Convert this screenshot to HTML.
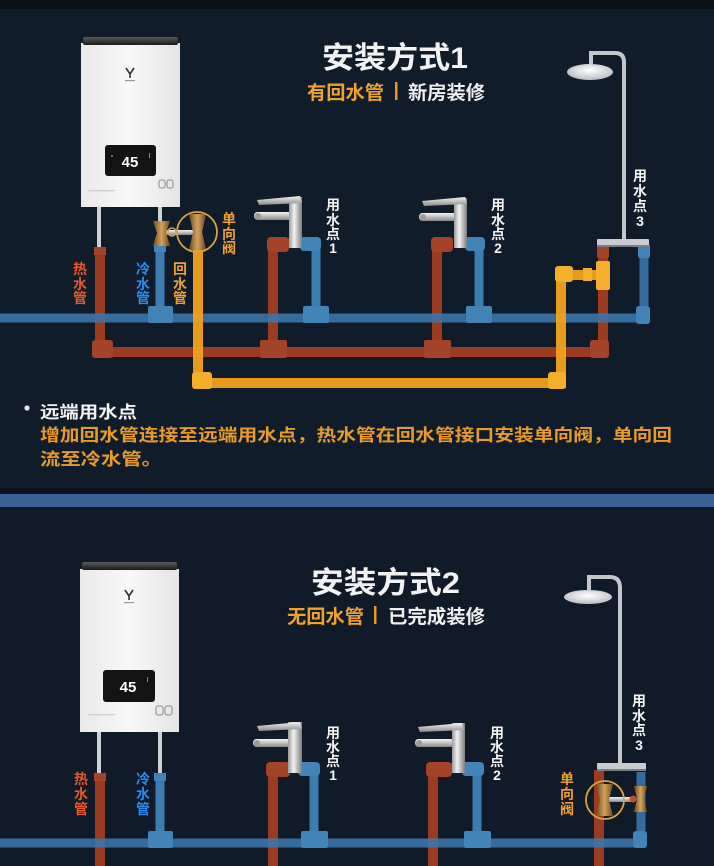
<!DOCTYPE html>
<html><head><meta charset="utf-8"><style>
html,body{margin:0;padding:0;background:#111c2b;}
svg{display:block}
text{font-family:"Liberation Sans","Noto Sans CJK SC",sans-serif;font-weight:bold}
</style></head><body>
<svg width="714" height="866" viewBox="0 0 714 866" xmlns="http://www.w3.org/2000/svg">
<defs>
<linearGradient id="body" x1="0" x2="1" y1="0" y2="0"><stop offset="0" stop-color="#e9e9e9"/><stop offset="0.5" stop-color="#f8f8f8"/><stop offset="1" stop-color="#e4e4e4"/></linearGradient>
<linearGradient id="cap" x1="0" x2="0" y1="0" y2="1"><stop offset="0" stop-color="#5a5a5a"/><stop offset="1" stop-color="#1a1a1a"/></linearGradient>
<linearGradient id="chrome" x1="0" x2="1" y1="0" y2="0"><stop offset="0" stop-color="#9a9a9a"/><stop offset="0.4" stop-color="#f2f2f2"/><stop offset="1" stop-color="#7c7c7c"/></linearGradient>
<linearGradient id="chromeH" x1="0" x2="0" y1="0" y2="1"><stop offset="0" stop-color="#f4f4f4"/><stop offset="1" stop-color="#8a8a8a"/></linearGradient>
<linearGradient id="brass" x1="0" x2="1" y1="0" y2="0"><stop offset="0" stop-color="#6e4a1e"/><stop offset="0.5" stop-color="#d2a35c"/><stop offset="1" stop-color="#6e4a1e"/></linearGradient>
<radialGradient id="head" cx="0.5" cy="0.4" r="0.6"><stop offset="0" stop-color="#ffffff"/><stop offset="1" stop-color="#b8bcc2"/></radialGradient>
</defs>

<!-- backgrounds -->
<rect x="0" y="0" width="714" height="866" fill="#111c2b"/>
<rect x="0" y="0" width="714" height="9" fill="#0c1219"/>
<rect x="0" y="488" width="714" height="6" fill="#0c141e"/>
<rect x="0" y="494" width="714" height="13" fill="#3d6196"/>
<rect x="0" y="507" width="714" height="359" fill="#101a28"/>

<!-- ============ SECTION 1 ============ -->
<!-- heater 1 -->
<rect x="97" y="205" width="4" height="44" fill="#cfd2d5"/>
<rect x="158" y="205" width="4" height="20" fill="#cfd2d5"/>
<rect x="81" y="43" width="99" height="164" fill="url(#body)"/>
<rect x="83" y="37" width="95" height="8" rx="2" fill="url(#cap)"/>
<path d="M126,68 L130,74 L134,68 M130,74 L130,78" stroke="#333" stroke-width="1.6" fill="none"/>
<rect x="125" y="80" width="10" height="1.2" fill="#999"/>
<rect x="105" y="145" width="51" height="31" rx="3" fill="#131313"/>
<text x="130" y="167" font-size="15" fill="#ffffff" text-anchor="middle" font-weight="normal">45</text>
<circle cx="112" cy="156" r="1" fill="#888"/><rect x="149" y="153" width="1" height="5" fill="#888"/>
<rect x="159" y="180" width="6" height="8" rx="2" fill="none" stroke="#888" stroke-width="1"/>
<rect x="167" y="180" width="6" height="8" rx="2" fill="none" stroke="#888" stroke-width="1"/>
<rect x="88" y="190" width="27" height="1.4" fill="#cfcfcf"/>

<!-- red pipes s1 -->
<g fill="none" stroke="#9b3b1f" stroke-width="10">
<polyline points="100,249 100,352 603,352 603,248"/>
<polyline points="289,243 273,243 273,352"/>
<polyline points="453,243 437,243 437,352"/>
</g>
<g fill="#a3432a">
<rect x="94" y="247" width="12" height="8"/>
<rect x="92" y="340" width="21" height="18" rx="3"/>
<rect x="260" y="340" width="27" height="18" rx="2"/>
<rect x="424" y="340" width="27" height="18" rx="2"/>
<rect x="590" y="340" width="19" height="18" rx="3"/>
<rect x="267" y="237" width="22" height="15" rx="4"/>
<rect x="431" y="237" width="22" height="15" rx="4"/>
<rect x="597" y="244" width="12" height="14" rx="2"/>
</g>

<!-- blue pipes s1 -->
<g fill="none" stroke="#3a78ad" stroke-width="9" opacity="0.88">
<polyline points="0,318 644,318 644,248"/>
</g>
<g fill="none" stroke="#3b7cb1" stroke-width="9">
<line x1="160" y1="244" x2="160" y2="312"/>
<polyline points="300,243 316,243 316,312"/>
<polyline points="465,243 479,243 479,312"/>
</g>
<g fill="#4284b8">
<rect x="148" y="306" width="25" height="17" rx="2"/>
<rect x="303" y="306" width="26" height="17" rx="2"/>
<rect x="466" y="306" width="26" height="17" rx="2"/>
<rect x="636" y="306" width="14" height="18" rx="3"/>
<rect x="300" y="237" width="21" height="14" rx="4"/>
<rect x="465" y="237" width="20" height="14" rx="4"/>
<rect x="638" y="244" width="12" height="14" rx="2"/>
<rect x="154" y="244" width="12" height="8"/>
</g>

<!-- orange return pipe -->
<g fill="none" stroke="#f2a21e" stroke-width="10" opacity="0.95">
<polyline points="198,250 198,383 561,383 561,275 600,275"/>
</g>
<g fill="#f5ae2c">
<rect x="192" y="372" width="20" height="17" rx="3"/>
<rect x="548" y="372" width="18" height="17" rx="3"/>
<rect x="555" y="266" width="18" height="16" rx="3"/>
<rect x="583" y="268" width="9" height="13"/>
<rect x="596" y="261" width="14" height="29" rx="2"/>
</g>

<!-- valves s1 -->
<rect x="166" y="230" width="28" height="5" fill="url(#chromeH)"/>
<circle cx="172" cy="232" r="4" fill="none" stroke="#c9a060" stroke-width="1.5"/>
<path d="M153,221 L170,221 L166,233 L170,246 L153,246 L157,233 Z" fill="url(#brass)"/>
<path d="M189,214 L206,214 L202,232 L206,250 L189,250 L193,232 Z" fill="url(#brass)"/>
<circle cx="197" cy="232" r="20" fill="none" stroke="#d9a246" stroke-width="1.8"/>

<!-- faucets s1 -->
<rect x="254" y="212" width="38" height="8" rx="3.5" fill="url(#chromeH)"/>
<circle cx="258" cy="216" r="3" fill="#9a9a9a"/>
<rect x="289" y="197" width="13" height="51" fill="url(#chrome)"/>
<path d="M257,200 L300,196 L302,203 L259,205 Z" fill="url(#chromeH)"/>
<rect x="419" y="213" width="38" height="8" rx="3.5" fill="url(#chromeH)"/>
<circle cx="423" cy="217" r="3" fill="#9a9a9a"/>
<rect x="454" y="198" width="13" height="50" fill="url(#chrome)"/>
<path d="M422,201 L465,197 L467,204 L424,206 Z" fill="url(#chromeH)"/>

<!-- shower s1 -->
<path d="M624,240 L624,62 Q624,53 615,53 L591,53 L591,64" fill="none" stroke="#c3c7cc" stroke-width="4"/>
<ellipse cx="590" cy="72" rx="23" ry="8" fill="url(#head)"/>
<rect x="597" y="239" width="52" height="7" rx="1" fill="#c8ccd0"/>
<rect x="597" y="245" width="52" height="2" fill="#7a7e84"/>

<!-- titles s1 -->
<text x="322" y="68" font-size="30" fill="#f2f2f2" textLength="146" lengthAdjust="spacingAndGlyphs">安装方式1</text>
<text x="307" y="99" font-size="19" fill="#f0a22e" textLength="77" lengthAdjust="spacingAndGlyphs">有回水管</text>
<rect x="395" y="82" width="2.5" height="18" fill="#e8962a"/>
<text x="408" y="99" font-size="19" fill="#f0f0f0" textLength="77" lengthAdjust="spacingAndGlyphs">新房装修</text>

<!-- vertical labels s1 -->
<g font-size="14" fill="#f4f4f4" text-anchor="middle">
<text x="333" y="210">用</text><text x="333" y="225">水</text><text x="333" y="239">点</text><text x="333" y="253">1</text>
<text x="498" y="210">用</text><text x="498" y="225">水</text><text x="498" y="239">点</text><text x="498" y="253">2</text>
<text x="640" y="181">用</text><text x="640" y="196">水</text><text x="640" y="211">点</text><text x="640" y="226">3</text>
</g>
<g font-size="14" text-anchor="middle">
<g fill="#e65a2c"><text x="80" y="274">热</text><text x="80" y="289">水</text><text x="80" y="303">管</text></g>
<g fill="#2b8ced"><text x="143" y="274">冷</text><text x="143" y="289">水</text><text x="143" y="303">管</text></g>
<g fill="#f0a030"><text x="180" y="274">回</text><text x="180" y="289">水</text><text x="180" y="303">管</text></g>
<g fill="#f0a030"><text x="229" y="224">单</text><text x="229" y="239">向</text><text x="229" y="253">阀</text></g>
</g>

<!-- description -->
<circle cx="27" cy="408" r="2.6" fill="#e8e8e8"/>
<text x="40" y="418" font-size="17" fill="#f2f2f2" textLength="97" lengthAdjust="spacingAndGlyphs">远端用水点</text>
<text x="40" y="441" font-size="17" fill="#e89a2a" textLength="632" lengthAdjust="spacingAndGlyphs">增加回水管连接至远端用水点，热水管在回水管接口安装单向阀，单向回</text>
<text x="40" y="465" font-size="17" fill="#e89a2a" textLength="122" lengthAdjust="spacingAndGlyphs">流至冷水管。</text>

<!-- ============ SECTION 2 ============ -->
<rect x="97" y="730" width="4" height="45" fill="#cfd2d5"/>
<rect x="158" y="730" width="4" height="45" fill="#cfd2d5"/>
<rect x="80" y="569" width="99" height="163" fill="url(#body)"/>
<rect x="82" y="562" width="95" height="8" rx="2" fill="url(#cap)"/>
<path d="M125,590 L129,596 L133,590 M129,596 L129,600" stroke="#333" stroke-width="1.6" fill="none"/>
<rect x="124" y="602" width="10" height="1.2" fill="#999"/>
<rect x="103" y="670" width="52" height="32" rx="3" fill="#131313"/>
<text x="128" y="692" font-size="15" fill="#ffffff" text-anchor="middle" font-weight="normal">45</text>
<rect x="147" y="677" width="1" height="5" fill="#888"/>
<rect x="156" y="706" width="7" height="9" rx="2" fill="none" stroke="#888" stroke-width="1"/>
<rect x="165" y="706" width="7" height="9" rx="2" fill="none" stroke="#888" stroke-width="1"/>
<rect x="88" y="714" width="27" height="1.4" fill="#cfcfcf"/>

<!-- red pipes s2 -->
<g fill="none" stroke="#9b3b1f" stroke-width="10">
<line x1="100" y1="773" x2="100" y2="866"/>
<polyline points="290,768 273,768 273,866"/>
<polyline points="452,768 433,768 433,866"/>
<line x1="599" y1="770" x2="599" y2="866"/>
</g>
<g fill="#a3432a">
<rect x="94" y="773" width="12" height="8"/>
<rect x="266" y="762" width="24" height="15" rx="4"/>
<rect x="426" y="762" width="26" height="15" rx="4"/>
</g>

<!-- blue pipes s2 -->
<g fill="none" stroke="#3a78ad" stroke-width="9" opacity="0.88">
<polyline points="0,843 641,843 641,772"/>
</g>
<g fill="none" stroke="#3b7cb1" stroke-width="9">
<line x1="160" y1="773" x2="160" y2="836"/>
<polyline points="298,768 314,768 314,836"/>
<polyline points="462,768 477,768 477,836"/>
</g>
<g fill="#4284b8">
<rect x="154" y="773" width="12" height="8"/>
<rect x="148" y="831" width="25" height="17" rx="2"/>
<rect x="301" y="831" width="27" height="17" rx="2"/>
<rect x="464" y="831" width="27" height="17" rx="2"/>
<rect x="633" y="831" width="14" height="17" rx="3"/>
<rect x="298" y="762" width="22" height="14" rx="4"/>
<rect x="462" y="762" width="22" height="14" rx="4"/>
</g>

<!-- faucets s2 -->
<rect x="253" y="739" width="39" height="8" rx="3.5" fill="url(#chromeH)"/>
<circle cx="257" cy="743" r="3" fill="#9a9a9a"/>
<rect x="288" y="722" width="14" height="51" fill="url(#chrome)"/>
<path d="M257,726 L300,722 L302,729 L259,731 Z" fill="url(#chromeH)"/>
<rect x="415" y="739" width="39" height="8" rx="3.5" fill="url(#chromeH)"/>
<circle cx="419" cy="743" r="3" fill="#9a9a9a"/>
<rect x="452" y="723" width="13" height="50" fill="url(#chrome)"/>
<path d="M418,727 L462,723 L464,730 L420,732 Z" fill="url(#chromeH)"/>

<!-- shower s2 -->
<path d="M620,765 L620,588 Q620,577 610,577 L589,577 L589,590" fill="none" stroke="#c3c7cc" stroke-width="4"/>
<ellipse cx="588" cy="597" rx="24" ry="7" fill="url(#head)"/>
<rect x="597" y="763" width="49" height="7" rx="1" fill="#c8ccd0"/>
<rect x="597" y="769" width="49" height="2" fill="#7a7e84"/>

<!-- valves s2 -->
<rect x="606" y="797" width="28" height="5" fill="url(#chromeH)"/>
<circle cx="633" cy="799" r="3.5" fill="#c0502a"/>
<path d="M596,784 L613,784 L609,800 L613,816 L596,816 L600,800 Z" fill="url(#brass)"/>
<path d="M634,786 L647,786 L644,799 L647,812 L634,812 L637,799 Z" fill="url(#brass)"/>
<circle cx="605" cy="800" r="19" fill="none" stroke="#d9a246" stroke-width="1.8"/>

<!-- titles s2 -->
<text x="311" y="593" font-size="30" fill="#f2f2f2" textLength="149" lengthAdjust="spacingAndGlyphs">安装方式2</text>
<text x="287" y="623" font-size="19" fill="#f0a22e" textLength="77" lengthAdjust="spacingAndGlyphs">无回水管</text>
<rect x="374" y="606" width="2.5" height="18" fill="#e8962a"/>
<text x="388" y="623" font-size="19" fill="#f0f0f0" textLength="97" lengthAdjust="spacingAndGlyphs">已完成装修</text>

<!-- vertical labels s2 -->
<g font-size="14" fill="#f4f4f4" text-anchor="middle">
<text x="333" y="738">用</text><text x="333" y="752">水</text><text x="333" y="766">点</text><text x="333" y="780">1</text>
<text x="497" y="738">用</text><text x="497" y="752">水</text><text x="497" y="766">点</text><text x="497" y="780">2</text>
<text x="639" y="706">用</text><text x="639" y="721">水</text><text x="639" y="735">点</text><text x="639" y="750">3</text>
</g>
<g font-size="14" text-anchor="middle">
<g fill="#e65a2c"><text x="81" y="784">热</text><text x="81" y="799">水</text><text x="81" y="814">管</text></g>
<g fill="#2b8ced"><text x="143" y="784">冷</text><text x="143" y="799">水</text><text x="143" y="814">管</text></g>
<g fill="#f0a030"><text x="567" y="784">单</text><text x="567" y="799">向</text><text x="567" y="814">阀</text></g>
</g>
</svg>
</body></html>
